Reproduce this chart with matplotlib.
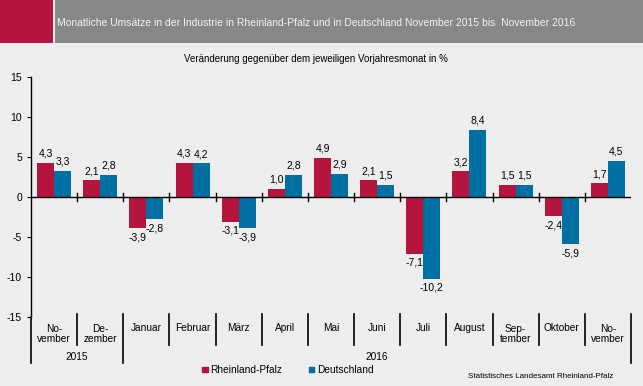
import matplotlib
matplotlib.use("Agg")
import matplotlib.pyplot as plt
from matplotlib.patches import Rectangle, Patch
from matplotlib.transforms import blended_transform_factory
import numpy as np

plt.rcParams['font.family'] = ['Liberation Sans', 'DejaVu Sans']

months = ["No-\nvember", "De-\nzember", "Januar", "Februar", "März", "April", "Mai",
          "Juni", "Juli", "August", "Sep-\ntember", "Oktober", "No-\nvember"]
years = ["2015", "2016"]
rlp = [4.3, 2.1, -3.9, 4.3, -3.1, 1.0, 4.9, 2.1, -7.1, 3.2, 1.5, -2.4, 1.7]
de = [3.3, 2.8, -2.8, 4.2, -3.9, 2.8, 2.9, 1.5, -10.2, 8.4, 1.5, -5.9, 4.5]

RED = '#B5143D'
BLUE = '#0070A2'
BG = '#ECEDEC'

W, H = 643, 386
fig = plt.figure(figsize=(W / 100, H / 100), dpi=100, facecolor=BG)

# header band
fig.patches.append(Rectangle((0, 1 - 43 / H), 53 / W, 43 / H, transform=fig.transFigure,
                             facecolor=RED, edgecolor='none'))
fig.patches.append(Rectangle((55 / W, 1 - 43 / H), 1 - 55 / W, 43 / H, transform=fig.transFigure,
                             facecolor='#878787', edgecolor='none'))
fig.text(57 / W, 1 - 23 / H,
         "Monatliche Umsätze in der Industrie in Rheinland-Pfalz und in Deutschland November 2015 bis  November 2016",
         color='#F2F2F2', fontsize=7.5, va='center', ha='left')
fig.text(316 / W, 1 - 59 / H, "Veränderung gegenüber dem jeweiligen Vorjahresmonat in %",
         fontsize=7.0, va='center', ha='center')

ax = fig.add_axes([31 / W, (H - 317) / H, 600 / W, 240 / H])
ax.set_facecolor('none')

x = np.arange(len(months))
bw = 0.368
b1 = ax.bar(x - bw / 2, rlp, bw, color=RED, zorder=2)
b2 = ax.bar(x + bw / 2, de, bw, color=BLUE, zorder=2)

for bars, vals in ((b1, rlp), (b2, de)):
    for b, v in zip(bars, vals):
        lbl = f"{v:.1f}".replace('.', ',')
        ax.annotate(lbl, (b.get_x() + b.get_width() / 2, v),
                    xytext=(0, 3 if v >= 0 else -3), textcoords='offset points',
                    ha='center', va='bottom' if v >= 0 else 'top', fontsize=7.5)

ax.set_xlim(-0.5, len(months) - 0.5)
ax.set_ylim(-15, 15)
ax.set_yticks(np.arange(-15, 16, 5))
ax.set_yticklabels([str(t) for t in range(-15, 16, 5)], fontsize=7.5)
ax.tick_params(axis='y', direction='out', length=3, width=0.8)
ax.set_xticks([])
for s in ('top', 'right', 'bottom'):
    ax.spines[s].set_visible(False)
ax.spines['left'].set_linewidth(1)

# zero line with boundary ticks
ax.axhline(0, color='black', lw=1, zorder=3)
for bnd in np.arange(0.5, len(months) - 0.5):
    ax.plot([bnd, bnd], [-0.45, 0.45], color='black', lw=1, zorder=3)

# category separators below the plot
tr = blended_transform_factory(ax.transData, ax.transAxes)
short_top, short_bot, long_bot = 3 / 240, -28 / 240, -46 / 240
for bnd in np.arange(-0.5, len(months)):
    long = bnd in (-0.5, 1.5, len(months) - 0.5)
    ax.plot([bnd, bnd], [short_top if bnd > -0.5 else 0, long_bot if long else short_bot],
            color='black', lw=1.2, transform=tr, clip_on=False)

for i, m in enumerate(months):
    two = '\n' in m
    ax.text(i, (-17 if two else -11) / 240, m, transform=tr, ha='center', va='center',
            fontsize=7.3, linespacing=1.1)
ax.text(0.5, -40 / 240, years[0], transform=tr, ha='center', va='center', fontsize=7.3)
ax.text(7, -40 / 240, years[1], transform=tr, ha='center', va='center', fontsize=7.3)

handles = [Patch(color=RED, label='Rheinland-Pfalz'), Patch(color=BLUE, label='Deutschland')]
fig.legend(handles=handles, loc='center', bbox_to_anchor=(288 / W, 1 - 370 / H), ncol=2,
           frameon=False, fontsize=7.3, handlelength=0.5, handleheight=0.5,
           handletextpad=0.3, columnspacing=2.6)

fig.text(613 / W, 1 - 376 / H, "Statistisches Landesamt Rheinland-Pfalz",
         fontsize=5.8, ha='right', va='center')

fig.savefig('out.png', dpi=100, facecolor=BG)
